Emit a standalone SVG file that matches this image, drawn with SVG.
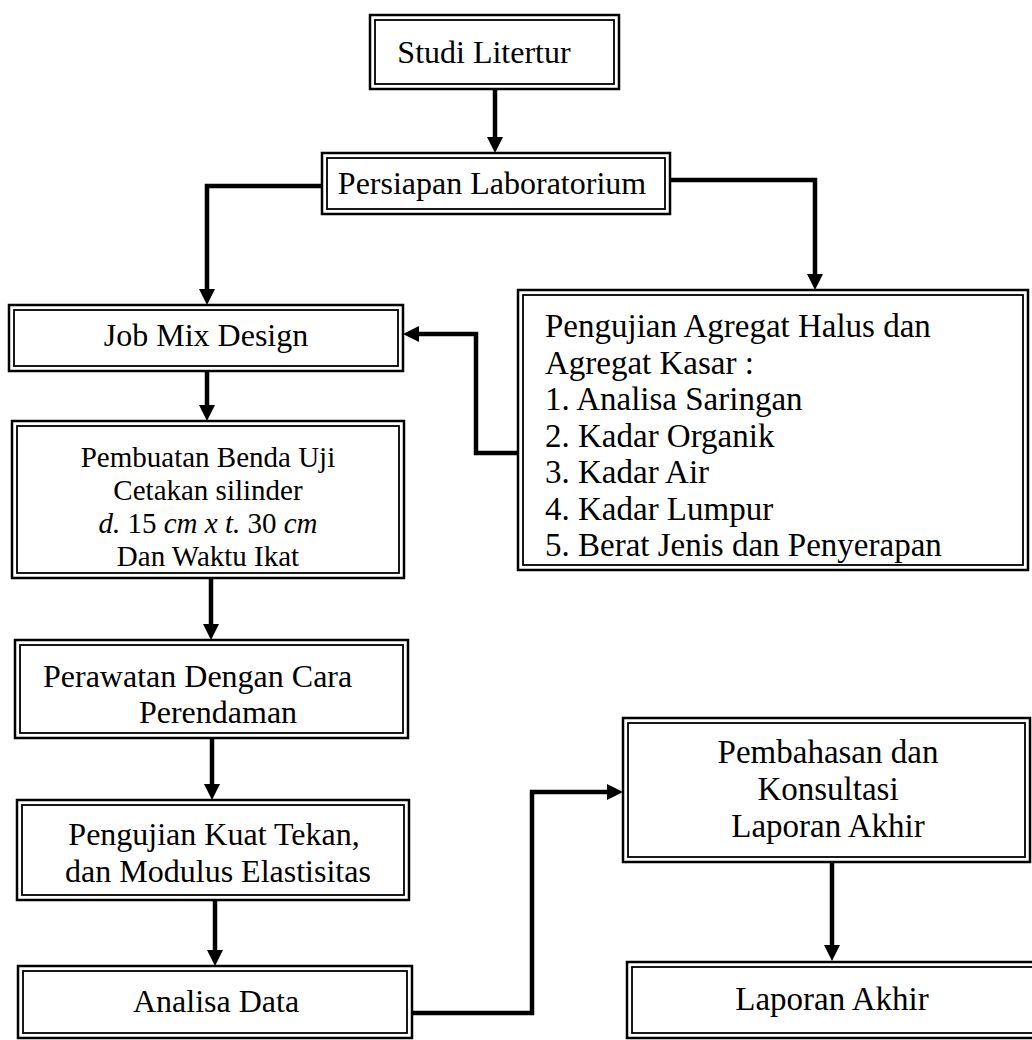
<svg xmlns="http://www.w3.org/2000/svg" width="1032" height="1040" viewBox="0 0 1032 1040">
<style>
.o{fill:none;stroke:#000;stroke-width:2.5}
.i{fill:none;stroke:#000;stroke-width:1.8}
.t{font-family:"Liberation Serif","Times New Roman",serif;font-size:32px;fill:#000}
.c{text-anchor:middle}
.r{font-size:33px}
.s{font-size:29px}
.c2{fill:none;stroke:#000;stroke-width:4.5;stroke-linejoin:miter}
</style>
<defs>
<marker id="ah" viewBox="0 0 16 16" refX="0" refY="8" markerWidth="16" markerHeight="16" markerUnits="userSpaceOnUse" orient="auto">
<path d="M0,0 L16,8 L0,16 z" fill="#000"/>
</marker>
</defs>
<rect width="1032" height="1040" fill="#fff"/>
<g id="connectors">
<path class="c2" d="M495,89 V137" marker-end="url(#ah)"/>
<path class="c2" d="M322,186 H207 V289" marker-end="url(#ah)"/>
<path class="c2" d="M670,180 H815 V274" marker-end="url(#ah)"/>
<path class="c2" d="M518,453 H476 V334 H419" marker-end="url(#ah)"/>
<path class="c2" d="M207,371 V405" marker-end="url(#ah)"/>
<path class="c2" d="M211,578 V624" marker-end="url(#ah)"/>
<path class="c2" d="M212,738 V784" marker-end="url(#ah)"/>
<path class="c2" d="M215,900 V950" marker-end="url(#ah)"/>
<path class="c2" d="M412,1013 H532 V792 H607" marker-end="url(#ah)"/>
<path class="c2" d="M832,862 V945" marker-end="url(#ah)"/>
</g>
<g id="studi">
<rect class="o" x="370" y="15" width="249" height="74"/>
<rect class="i" x="375" y="20" width="239" height="64"/>
<text class="t c" x="484" y="63">Studi Litertur</text>
</g>
<g id="persiapan">
<rect class="o" x="322" y="153" width="348" height="61"/>
<rect class="i" x="327" y="158" width="338" height="51"/>
<text class="t c" x="492" y="194">Persiapan Laboratorium</text>
</g>
<g id="jobmix">
<rect class="o" x="9" y="305" width="394" height="66"/>
<rect class="i" x="14" y="310" width="384" height="56"/>
<text class="t c" x="206" y="346">Job Mix Design</text>
</g>
<g id="pengujian-agregat">
<rect class="o" x="518" y="290" width="510" height="280"/>
<rect class="i" x="523" y="295" width="500" height="270"/>
<text class="t r" x="545" y="337">Pengujian Agregat Halus dan</text>
<text class="t r" x="545" y="373.5">Agregat Kasar :</text>
<text class="t r" x="545" y="410">1. Analisa Saringan</text>
<text class="t r" x="545" y="446.5">2. Kadar Organik</text>
<text class="t r" x="545" y="483">3. Kadar Air</text>
<text class="t r" x="545" y="519.5">4. Kadar Lumpur</text>
<text class="t r" x="545" y="556">5. Berat Jenis dan Penyerapan</text>
</g>
<g id="pembuatan">
<rect class="o" x="12" y="421" width="392" height="157"/>
<rect class="i" x="17" y="426" width="382" height="147"/>
<text class="t s c" x="208" y="467">Pembuatan Benda Uji</text>
<text class="t s c" x="208" y="500">Cetakan silinder</text>
<text class="t s c" x="208" y="533"><tspan font-style="italic">d.</tspan> 15 <tspan font-style="italic">cm x t.</tspan> 30 <tspan font-style="italic">cm</tspan></text>
<text class="t s c" x="208" y="566">Dan Waktu Ikat</text>
</g>
<g id="perawatan">
<rect class="o" x="15" y="640" width="393" height="98"/>
<rect class="i" x="20" y="645" width="383" height="88"/>
<text class="t" x="43" y="687">Perawatan Dengan Cara</text>
<text class="t c" x="218" y="723">Perendaman</text>
</g>
<g id="kuat-tekan">
<rect class="o" x="17" y="800" width="392" height="100"/>
<rect class="i" x="22" y="805" width="382" height="90"/>
<text class="t c" x="214" y="845">Pengujian Kuat Tekan,</text>
<text class="t c" x="218" y="882">dan Modulus Elastisitas</text>
</g>
<g id="analisa">
<rect class="o" x="18" y="966" width="394" height="72"/>
<rect class="i" x="23" y="971" width="384" height="62"/>
<text class="t c" x="216" y="1012">Analisa Data</text>
</g>
<g id="pembahasan">
<rect class="o" x="623" y="718" width="407" height="144"/>
<rect class="i" x="628" y="723" width="397" height="134"/>
<text class="t r c" x="828" y="763">Pembahasan dan</text>
<text class="t r c" x="828" y="800">Konsultasi</text>
<text class="t r c" x="828" y="837">Laporan Akhir</text>
</g>
<g id="laporan">
<rect class="o" x="627" y="962" width="420" height="76"/>
<rect class="i" x="632" y="967" width="410" height="66"/>
<text class="t r c" x="832" y="1010">Laporan Akhir</text>
</g>
</svg>
